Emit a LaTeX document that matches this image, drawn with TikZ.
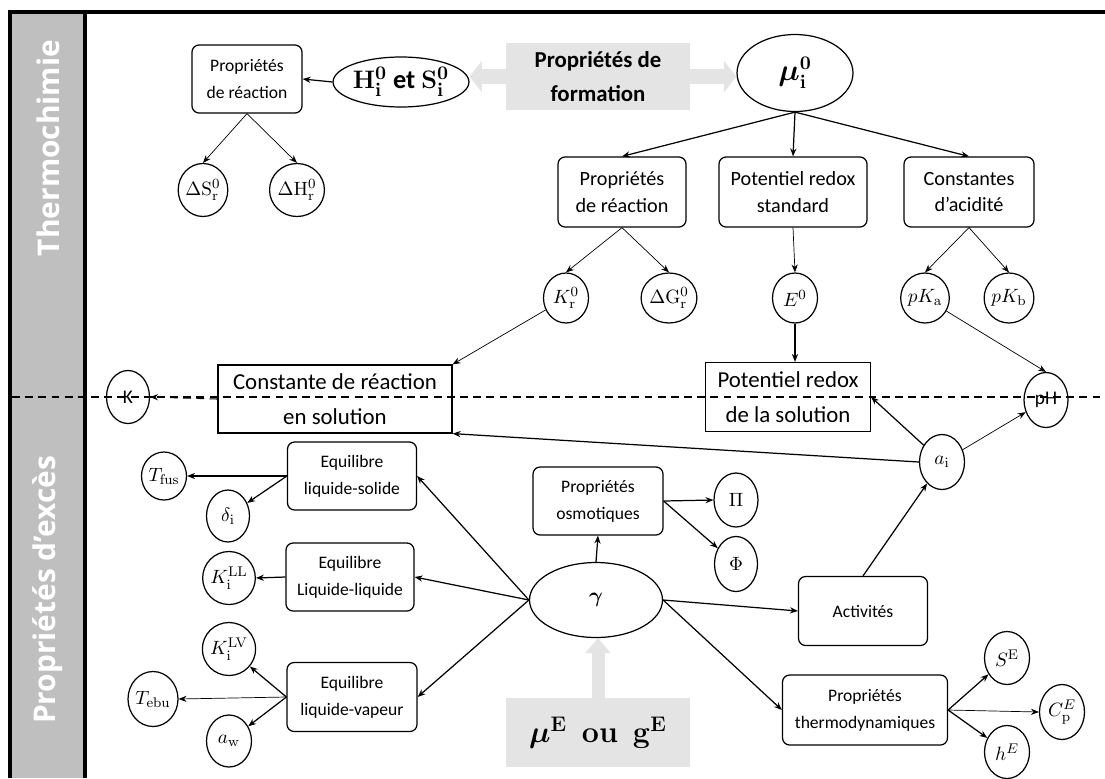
\documentclass[tikz,border=0pt]{standalone}
\usepackage[no-math]{fontspec}
\usepackage{amsmath}
\usepackage{bm}
\setmainfont{Carlito}
\newfontfamily\bandfont{Open Sans}
\usepackage{tikz}
\usetikzlibrary{shapes.geometric, arrows.meta, positioning}
\usetikzlibrary{calc}
\definecolor{bandgray}{RGB}{191,191,191}
\definecolor{fatgray}{RGB}{228,228,228}

\begin{document}
\begin{tikzpicture}[x=0.02cm, y=-0.02cm]
			% Define style
			\tikzset{
				propbox/.style={rectangle, rounded corners=4pt, draw=black, line width=0.7pt, align=center, inner sep=1pt, font=\fontsize{10}{15.5}\selectfont},
				bigbox/.style={rectangle, draw=black, line width=0.7pt, align=center, inner sep=1pt, font=\fontsize{13}{20}\selectfont},
				circ/.style={ellipse, draw=black, line width=0.7pt, inner sep=0pt, minimum width=0.9cm, minimum height=1.06cm, font=\fontsize{11}{13}\selectfont},
				oval/.style={ellipse, draw=black, line width=0.7pt, inner sep=0pt},
				graybox/.style={rectangle, fill=fatgray, align=center, inner sep=1pt},
				fatarrow/.style={draw=fatgray, line width=8.5pt, -{Triangle[length=7pt, width=17.5pt]}},
				bandlabel/.style={rotate=90, text=white, font=\bandfont\bfseries\fontsize{17}{20}\selectfont},
				sepline/.style={dash pattern=on 4.5pt off 3pt, line width=0.6pt},
				arrow/.style={line width=0.7pt, -{Stealth[length=4.5pt, width=3.5pt]}},
				thinarrow/.style={arrow, line width=0.4pt}
			}
			\useasboundingbox (0,0) rectangle (1105,778);
			
			% Frame and side band
			\fill[bandgray] (12,12) rectangle (83,778);
			\draw[line width=2.3pt] (10,778) -- (10,12) -- (1105,12);
			\draw[line width=2.3pt] (85,12) -- (85,778);
			\draw[sepline] (12,397) -- (1105,397);
			\node (lblThermo) [bandlabel] at (48,148) {Thermochimie};
			\node (lblExces) [bandlabel] at (48,590) {Propriétés d’excès};
			
			% Define blocks
			\node (propTL) [propbox, minimum width=2.2cm, minimum height=1.36cm] at (247,79) {Propriétés\\de réaction};
			\node (HS) [oval, minimum width=2.24cm, minimum height=1cm, font=\fontsize{15}{17}\selectfont] at (401,82) {$\mathbf{H}_{\mathbf{i}}^{\mathbf{0}}$ \textbf{et} $\mathbf{S}_{\mathbf{i}}^{\mathbf{0}}$};
			\node (dS) [circ] at (203,190) {$\Delta\mathrm{S}_{\mathrm{r}}^{0}$};
			\node (dH) [circ] at (297,190) {$\Delta\mathrm{H}_{\mathrm{r}}^{0}$};
			\node (formation) [graybox, minimum width=3.68cm, minimum height=1.34cm, font=\bfseries\fontsize{13}{19}\selectfont] at (598,76.5) {Propriétés de\\formation};
			\node (mu) [oval, minimum width=2.32cm, minimum height=1.54cm, font=\fontsize{16}{18}\selectfont] at (795,73) {$\bm{\mu}_{\mathbf{i}}^{\mathbf{0}}$};
			
			\node (propR) [propbox, minimum width=2.56cm, minimum height=1.4cm, font=\fontsize{11.5}{15}\selectfont] at (622,192) {Propriétés\\de réaction};
			\node (redoxStd) [propbox, minimum width=2.96cm, minimum height=1.4cm, font=\fontsize{11.5}{15}\selectfont] at (793,192) {Potentiel redox\\standard};
			\node (acid) [propbox, minimum width=2.6cm, minimum height=1.4cm, font=\fontsize{11.5}{15}\selectfont] at (969,192) {Constantes\\d’acidité};
			\node (Kr) [circ, minimum height=1cm] at (566,298) {$K_{\mathrm{r}}^{0}$};
			\node (dG) [circ, minimum height=1cm] at (669,298) {$\Delta\mathrm{G}_{\mathrm{r}}^{0}$};
			\node (E0) [circ, minimum height=1cm] at (795,298) {$E^{0}$};
			\node (pKa) [circ, minimum height=1cm] at (925,298) {$pK_{\mathrm{a}}$};
			\node (pKb) [circ, minimum height=1cm] at (1009,298) {$pK_{\mathrm{b}}$};
			
			\node (constSol) [bigbox, minimum width=4.68cm, minimum height=1.36cm] at (335,399) {Constante de réaction\\en solution};
			\node (redoxSol) [bigbox, minimum width=3.3cm, minimum height=1.38cm] at (788,397) {Potentiel redox\\de la solution};
			\node (K) [circ, minimum width=0.86cm] at (128,397) {K};
			\node (pH) [circ, minimum width=0.88cm, minimum height=1.1cm] at (1046,400) {pH};
			\node (ai) [circ, minimum height=1.1cm] at (942,462) {$a_{\mathrm{i}}$};
			
			\node (eqLS) [propbox, minimum width=2.58cm, minimum height=1.36cm] at (352,476) {Equilibre\\liquide-solide};
			\node (Tfus) [circ, minimum height=0.96cm] at (164,476) {$T_{\mathrm{fus}}$};
			\node (delta) [circ, minimum width=0.86cm, minimum height=1.04cm] at (228,516) {$\delta_{\mathrm{i}}$};
			\node (eqLL) [propbox, minimum width=2.56cm, minimum height=1.36cm] at (350,577) {Equilibre\\Liquide-liquide};
			\node (KLL) [circ] at (229,578) {$K_{\mathrm{i}}^{\mathrm{LL}}$};
			\node (KLV) [circ] at (229,649) {$K_{\mathrm{i}}^{\mathrm{LV}}$};
			\node (eqLV) [propbox, minimum width=2.6cm, minimum height=1.38cm] at (352,697) {Equilibre\\liquide-vapeur};
			\node (Tebu) [circ, minimum width=0.94cm, minimum height=1.1cm] at (153,699) {$T_{\mathrm{ebu}}$};
			\node (aw) [circ, minimum height=1.04cm] at (229,741) {$a_{\mathrm{w}}$};
			
			\node (gamma) [oval, minimum width=2.66cm, minimum height=1.5cm, font=\fontsize{13}{15}\selectfont] at (596,600) {$\bm{\gamma}$};
			\node (osmo) [propbox, minimum width=2.6cm, minimum height=1.36cm] at (598,501) {Propriétés\\osmotiques};
			\node (Pi) [circ, minimum width=0.88cm, minimum height=1.08cm] at (736,500) {$\Pi$};
			\node (Phi) [circ, minimum width=0.86cm, minimum height=1.1cm] at (736,564) {$\Phi$};
			\node (activ) [propbox, minimum width=2.58cm, minimum height=1.38cm] at (863,611) {Activités};
			\node (thermo) [propbox, minimum width=3.3cm, minimum height=1.4cm] at (865,710) {Propriétés\\thermodynamiques};
			\node (SE) [circ] at (1007,658) {$S^{\mathrm{E}}$};
			\node (Cp) [circ, minimum height=1.1cm] at (1062,712) {$C_{\mathrm{p}}^{E}$};
			\node (hE) [circ] at (1007,752) {$h^{E}$};
			\node (muE) [graybox, minimum width=3.68cm, minimum height=1.38cm, font=\fontsize{17}{20}\selectfont] at (598,732.5) {$\bm{\mu}^{\mathbf{E}}$\enspace$\mathbf{ou}$\enspace$\mathbf{g}^{\mathbf{E}}$};
			
			% Define arrows
			\draw [fatarrow] (formation.west) -- (formation.west -| HS.east);
			\draw [fatarrow] (formation.east) -- (formation.east -| mu.west);
			\draw [fatarrow, line width=7.4pt, -{Triangle[length=8.5pt, width=14pt]}] (muE.north) -- (muE.north |- gamma.south);
			
			\draw [arrow] (HS.west) -- (propTL.east);
			\draw [thinarrow] (propTL.south) -- (dS.north);
			\draw [thinarrow] (propTL.south) -- (dH.north);
			\draw [arrow] (mu.south) -- (propR.north);
			\draw [arrow] (mu.south) -- (redoxStd.north);
			\draw [arrow] (mu.south) -- (acid.north);
			\draw [thinarrow] (propR.south) -- (Kr.north);
			\draw [thinarrow] (propR.south) -- (dG.north);
			\draw [thinarrow] (redoxStd.south) -- (E0.north);
			\draw [thinarrow] (acid.south) -- (pKa.north);
			\draw [thinarrow] (acid.south) -- (pKb.north);
			\draw [arrow] (E0.south) -- (E0.south |- redoxSol.north);
			\draw [thinarrow] (Kr) -- (constSol.north east);
			\draw [thinarrow] (pKa) -- (pH.north);
			\draw [arrow] (ai) -- (redoxSol.east);
			\draw [thinarrow] (ai) -- (pH);
			\draw [arrow] (ai.west) -- (constSol.south east);
			\draw [arrow, sepline] (constSol.west) -- (K.east);
			\draw [arrow] (activ.north) -- (ai);
			
			\draw [arrow] (gamma.west) -- (eqLS.east);
			\draw [arrow] (gamma.west) -- (eqLL.east);
			\draw [arrow] (gamma.west) -- (eqLV.east);
			\draw [arrow] (gamma.north) -- (osmo.south);
			\draw [arrow] (osmo.east) -- (Pi.west);
			\draw [arrow] (osmo.east) -- (Phi);
			\draw [arrow] (gamma.east) -- (activ.west);
			\draw [arrow] (gamma.east) -- (thermo.west);
			\draw [arrow] (thermo.east) -- (SE);
			\draw [thinarrow] (thermo.east) -- (Cp.west);
			\draw [arrow] (thermo.east) -- (hE);
			
			\draw [arrow] (eqLS.west) -- (Tfus.east);
			\draw [arrow] (eqLS.west) -- (delta);
			\draw [arrow] (eqLL.west) -- (KLL.east);
			\draw [arrow] (eqLV.west) -- (KLV);
			\draw [thinarrow] (eqLV.west) -- (Tebu.east);
			\draw [arrow] (eqLV.west) -- (aw);
		\end{tikzpicture}
\end{document}
